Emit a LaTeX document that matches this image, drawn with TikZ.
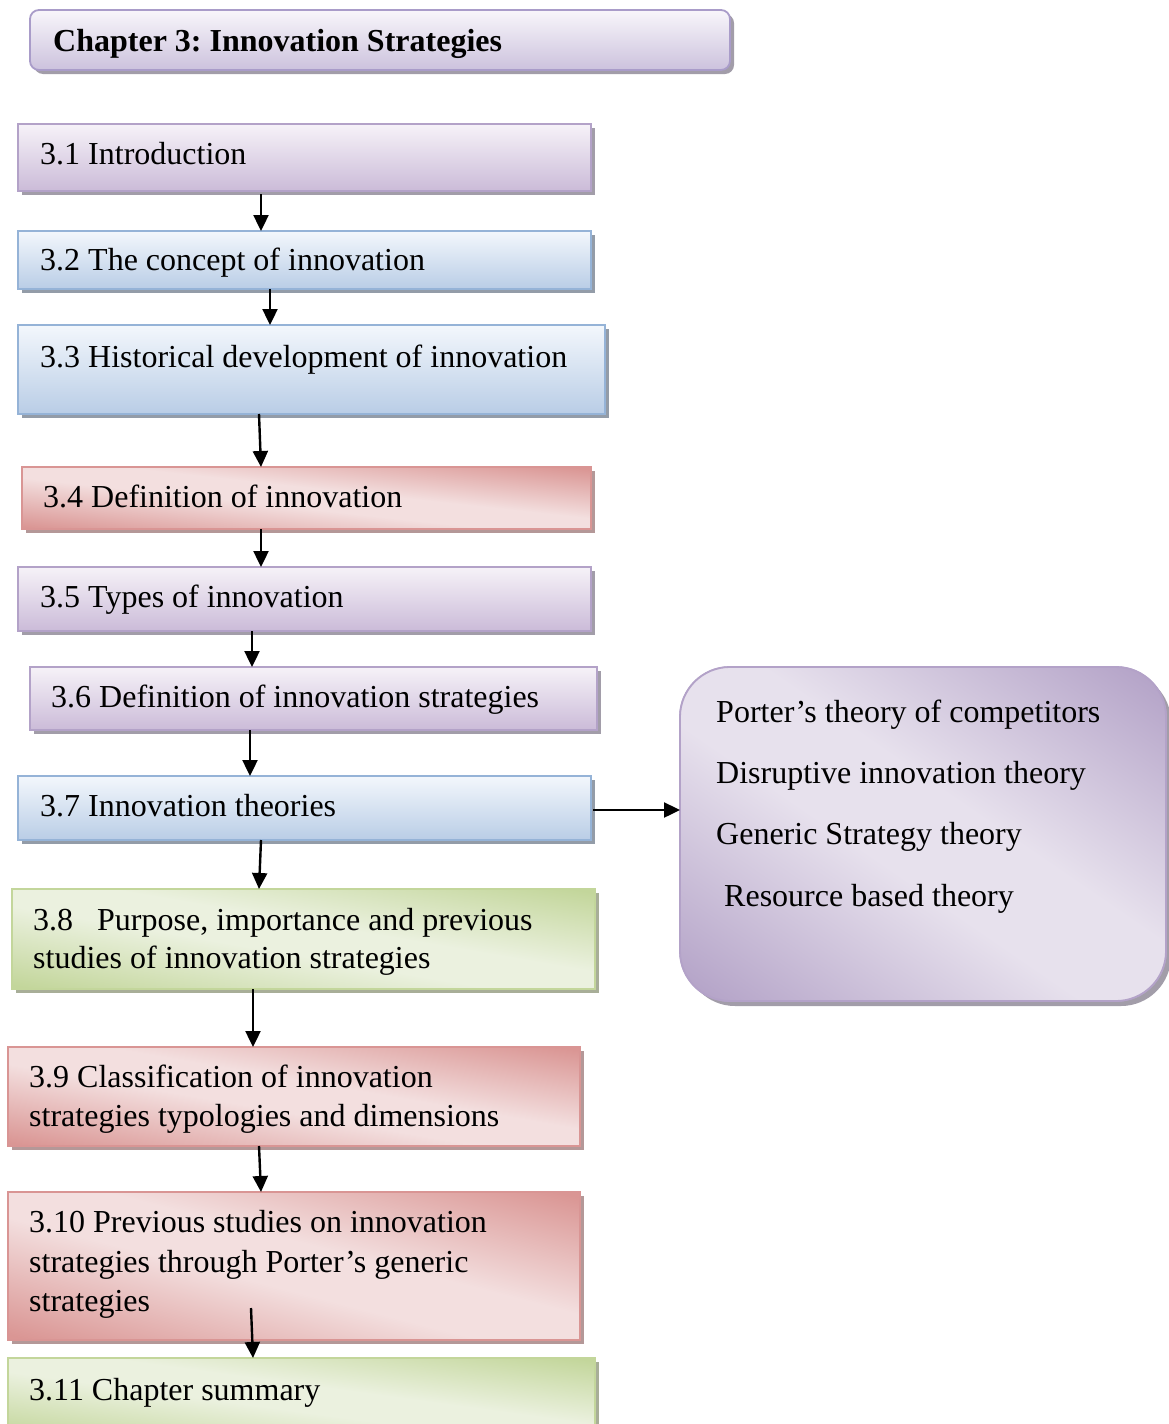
\documentclass[tikz,border=0pt]{standalone}
\usepackage{fontspec}
\setmainfont{Liberation Serif}
\usetikzlibrary{arrows.meta,shadows,calc}
\frenchspacing
\definecolor{pTop}{HTML}{F6F2F8}
\definecolor{pBot}{HTML}{CBBBD8}
\definecolor{pBorder}{HTML}{B3A2C8}
\definecolor{pShadow}{HTML}{A29DA9}
\definecolor{bTop}{HTML}{F3F7FC}
\definecolor{bBot}{HTML}{B9CDE6}
\definecolor{bBorder}{HTML}{95B3D7}
\definecolor{bShadow}{HTML}{939CA8}
\definecolor{rDark}{HTML}{DA9694}
\definecolor{rLight}{HTML}{F3DFDF}
\definecolor{rBorder}{HTML}{D99594}
\definecolor{rShadow}{HTML}{B49898}
\definecolor{gDark}{HTML}{C3D69B}
\definecolor{gLight}{HTML}{EBF1DF}
\definecolor{gBorder}{HTML}{C3D69B}
\definecolor{gShadow}{HTML}{A8AE98}
\definecolor{vDark}{HTML}{B3A2C7}
\definecolor{vLight}{HTML}{E7E1ED}
\definecolor{tTop}{HTML}{F8F6FB}
\definecolor{tBot}{HTML}{CCC2DD}
\definecolor{tBorder}{HTML}{A99CC9}
\pgfdeclarehorizontalshading{redmir}{100bp}{color(0bp)=(rDark); color(16bp)=(rDark); color(44bp)=(rLight); color(56bp)=(rLight); color(84bp)=(rDark); color(100bp)=(rDark)}
\pgfdeclarehorizontalshading{greenmir}{100bp}{color(0bp)=(gDark); color(16bp)=(gDark); color(44bp)=(gLight); color(56bp)=(gLight); color(84bp)=(gDark); color(100bp)=(gDark)}
\pgfdeclarehorizontalshading{violmir}{100bp}{color(0bp)=(vDark); color(16bp)=(vDark); color(44bp)=(vLight); color(56bp)=(vLight); color(84bp)=(vDark); color(100bp)=(vDark)}
% diagonal mirrored shading clipped to a node: #1 node, #2 shading, #3 width, #4 height, #5 corner radius
\newcommand{\mirshade}[5]{%
  \begin{scope}
    \clip[rounded corners=#5] (#1.south west) rectangle (#1.north east);
    \begin{scope}[shift={(#1.center)}, xscale=#3/50.1875, yscale=#4/50.1875, rotate=45]
      \pgflowlevelsynccm\pgfuseshading{#2}
    \end{scope}
  \end{scope}
  \draw[line width=1.8pt, draw=#1border, rounded corners=#5] (#1.south west) rectangle (#1.north east);}
\tikzset{
  box/.style={anchor=north west, inner sep=0pt, outer sep=0pt, line width=1.8pt},
  purplebox/.style={box, draw=pBorder, top color=pTop, bottom color=pBot,
    drop shadow={shadow xshift=4pt, shadow yshift=-4pt, fill=pShadow, opacity=1}},
  bluebox/.style={box, draw=bBorder, top color=bTop, bottom color=bBot,
    drop shadow={shadow xshift=4pt, shadow yshift=-4pt, fill=bShadow, opacity=1}},
  redbox/.style={box, draw=rBorder, fill=rLight,
    drop shadow={shadow xshift=4pt, shadow yshift=-4pt, fill=rShadow, opacity=1}},
  greenbox/.style={box, draw=gBorder, fill=gLight,
    drop shadow={shadow xshift=4pt, shadow yshift=-4pt, fill=gShadow, opacity=1}},
  txt/.style={anchor=base west, inner sep=0pt, font=\fontsize{32}{39}\selectfont},
  arr/.style={-{Triangle[length=16pt,width=15pt]}, line width=2.4pt, black},
}
\colorlet{b4border}{rBorder}
\colorlet{b9border}{rBorder}
\colorlet{b10border}{rBorder}
\colorlet{b8border}{gBorder}
\colorlet{b11border}{gBorder}
\colorlet{rbborder}{pBorder}
\begin{document}
\begin{tikzpicture}[x=1pt,y=-1pt]
\useasboundingbox (0,0) rectangle (1168,1424);
% title
\node[box, draw=tBorder, rounded corners=9pt, top color=tTop, bottom color=tBot,
  minimum width=700pt, minimum height=60pt,
  drop shadow={shadow xshift=4pt, shadow yshift=-4pt, fill=pShadow, opacity=1}] (title) at (30,10) {};
\node[txt, font=\fontsize{32}{39}\selectfont\bfseries] (titletext) at (53,51) {Chapter 3: Innovation Strategies};
% boxes
\node[purplebox, minimum width=573pt, minimum height=67pt] (b1) at (18,124) {};
\node[bluebox, minimum width=573pt, minimum height=58pt] (b2) at (18,231) {};
\node[bluebox, minimum width=587pt, minimum height=89pt] (b3) at (18,325) {};
\node[redbox, minimum width=569pt, minimum height=62pt] (b4) at (22,467) {};
\mirshade{b4}{redmir}{569}{62}{0pt}
\node[purplebox, minimum width=573pt, minimum height=64pt] (b5) at (18,567) {};
\node[purplebox, minimum width=567pt, minimum height=63pt] (b6) at (30,667) {};
\node[bluebox, minimum width=573pt, minimum height=64pt] (b7) at (18,776) {};
\node[greenbox, minimum width=583pt, minimum height=100pt] (b8) at (12,889) {};
\mirshade{b8}{greenmir}{583}{100}{0pt}
\node[redbox, minimum width=572pt, minimum height=99pt] (b9) at (8,1047) {};
\mirshade{b9}{redmir}{572}{99}{0pt}
\node[redbox, minimum width=572pt, minimum height=148pt] (b10) at (8,1192) {};
\mirshade{b10}{redmir}{572}{148}{0pt}
\node[greenbox, minimum width=587pt, minimum height=80pt] (b11) at (8,1358) {};
\mirshade{b11}{greenmir}{587}{80}{0pt}
\node[box, draw=pBorder, rounded corners=50pt, fill=vLight,
  minimum width=486pt, minimum height=334pt,
  drop shadow={shadow xshift=5pt, shadow yshift=-5pt, fill=pShadow, opacity=1}] (rb) at (680,667) {};
\mirshade{rb}{violmir}{486}{334}{50pt}
% texts
\node[txt] (t1) at (40,164) {3.1 Introduction};
\node[txt] (t2) at (40,270) {3.2 The concept of innovation};
\node[txt] (t3) at (40,367) {3.3 Historical development of innovation};
\node[txt] (t4) at (43,507) {3.4 Definition of innovation};
\node[txt] (t5) at (40,607) {3.5 Types of innovation};
\node[txt] (t6) at (51,707) {3.6 Definition of innovation strategies};
\node[txt] (t7) at (40,816) {3.7 Innovation theories};
\node[txt] (t8a) at (33,930) {3.8\hspace{0.75em}Purpose, importance and previous};
\node[txt] (t8b) at (33,968) {studies of innovation strategies};
\node[txt] (t9a) at (29,1087) {3.9 Classification of innovation};
\node[txt] (t9b) at (29,1126) {strategies typologies and dimensions};
\node[txt] (t10a) at (29,1232) {3.10 Previous studies on innovation};
\node[txt] (t10b) at (29,1272) {strategies through Porter’s generic};
\node[txt] (t10c) at (29,1311) {strategies};
\node[txt] (t11) at (29,1400) {3.11 Chapter summary};
\node[txt] (r1) at (716,722) {Porter’s theory of competitors};
\node[txt] (r2) at (716,783) {Disruptive innovation theory};
\node[txt] (r3) at (716,844) {Generic Strategy theory};
\node[txt] (r4) at (724,906) {Resource based theory};
% arrows
\coordinate (c10) at (251,1308);
\draw[arr] ([yshift=-3pt]b1.south -| 261,0) -- (b2.north -| 261,0);
\draw[arr] (b2.south -| 270,0) -- (b3.north -| 270,0);
\draw[arr] (b3.south -| 259,0) -- (b4.north -| 261,0);
\draw[arr] (b4.south -| 261,0) -- (b5.north -| 261,0);
\draw[arr] (b5.south -| 252,0) -- (b6.north -| 252,0);
\draw[arr] (b6.south -| 250,0) -- (b7.north -| 250,0);
\draw[arr] (b7.south -| 261,0) -- (b8.north -| 259,0);
\draw[arr] (b8.south -| 253,0) -- (b9.north -| 253,0);
\draw[arr] (b9.south -| 259,0) -- (b10.north -| 261,0);
\draw[arr] (c10) -- (b11.north -| 253,0);
\draw[arr] ([xshift=2pt,yshift=-2pt]b7.east) -- ([yshift=-2pt]b7.east -| rb.west);
\end{tikzpicture}
\end{document}
